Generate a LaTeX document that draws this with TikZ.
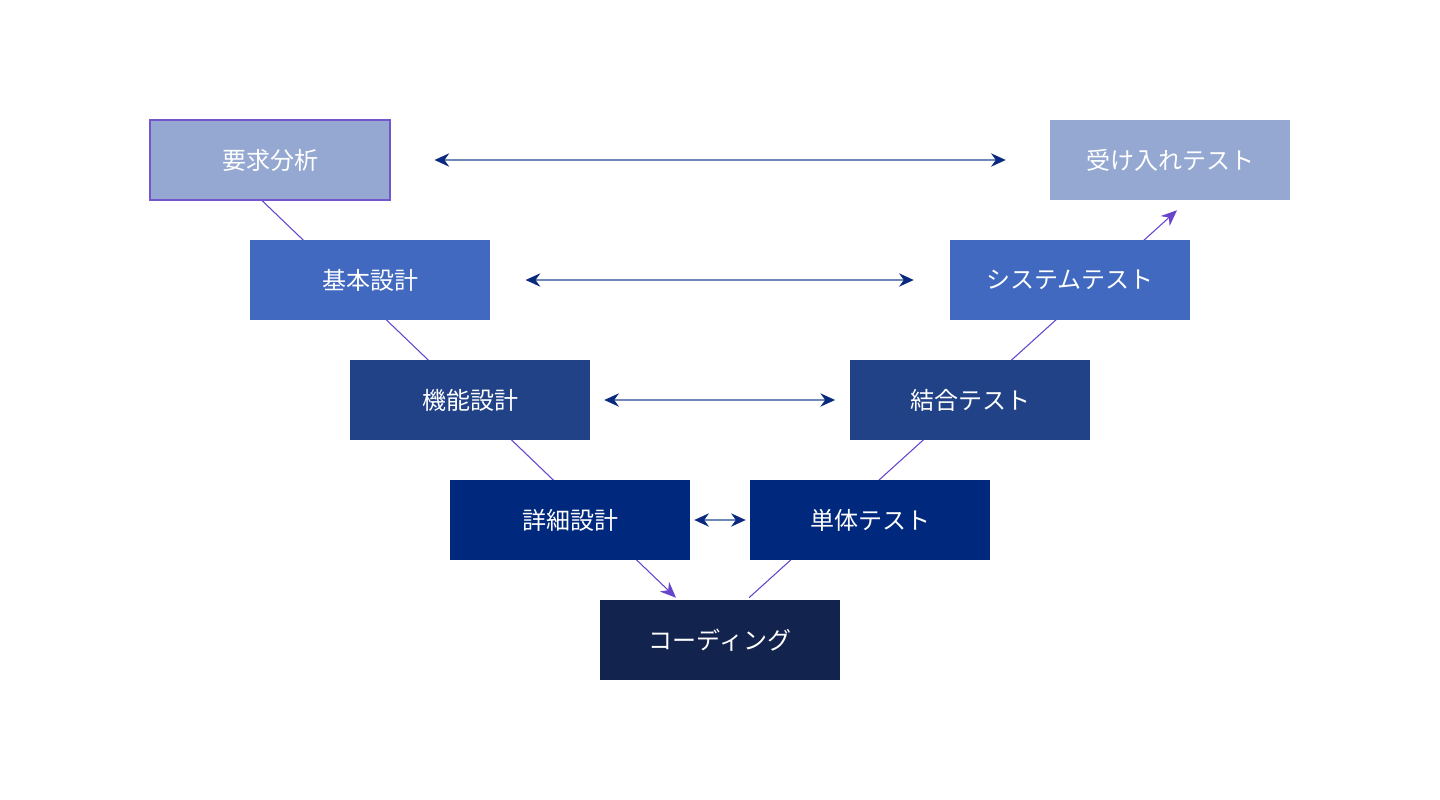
\documentclass[tikz,border=0pt]{standalone}
\usepackage{fontspec}
\newfontfamily\jpfont{Noto Sans CJK JP}
\usepackage{xcolor}
\usepackage{tikz}
\usetikzlibrary{arrows.meta,positioning,backgrounds,calc}

\definecolor{lvone}{HTML}{94A8D2}
\definecolor{lvtwo}{HTML}{4169BF}
\definecolor{lvthree}{HTML}{224287}
\definecolor{lvfour}{HTML}{00297D}
\definecolor{lvfive}{HTML}{12234E}
\definecolor{vline}{HTML}{6644CC}
\definecolor{boxedge}{HTML}{7456CC}
\definecolor{linkline}{HTML}{7088B8}
\definecolor{linkhead}{HTML}{0A2A80}

\begin{document}
\begin{tikzpicture}[x=0.75pt, y=-0.75pt, font=\jpfont\fontsize{18pt}{21pt}\selectfont,
  box/.style={text=white, inner sep=0pt, minimum width=180pt, minimum height=60pt},
  link/.style={{Stealth[length=11pt, width=10pt, color=linkhead]}-{Stealth[length=11pt, width=10pt, color=linkhead]}, linkline, line width=1.1pt},
  vee/.style={-{Stealth[length=12pt, width=10pt]}, vline, line width=0.8pt}]
\useasboundingbox (0,0) rectangle (1440,800);
% left side (design)
\node[box, fill=lvone, draw=boxedge, line width=0.8pt] (req) at (270,160) {要求分析};
\node[box, fill=lvtwo] (basic) at (370,280) {基本設計};
\node[box, fill=lvthree] (func) at (470,400) {機能設計};
\node[box, fill=lvfour] (detail) at (570,520) {詳細設計};
\node[box, fill=lvfive] (code) at (720,640) {コーディング};
% right side (test)
\node[box, fill=lvfour] (unit) at (870,520) {単体テスト};
\node[box, fill=lvthree] (integ) at (970,400) {結合テスト};
\node[box, fill=lvtwo] (system) at (1070,280) {システムテスト};
\node[box, fill=lvone] (accept) at (1170,160) {受け入れテスト};
% the V
\begin{scope}[on background layer]
\draw[vee] ($(req.south)+(-8,0)$) -- ($(code.north)+(-44,-2)$);
\draw[vee] ($(code.north)+(29,-2)$) -- ($(accept.south)+(7,10)$);
\end{scope}
% links between levels
\draw[link, shorten <=33pt, shorten >=33pt] (req) -- (accept);
\draw[link, shorten <=26.5pt, shorten >=27pt] (basic) -- (system);
\draw[link, shorten <=10.5pt, shorten >=11pt] (func) -- (integ);
\draw[link, shorten <=3pt, shorten >=3pt] (detail) -- (unit);
\end{tikzpicture}
\end{document}
